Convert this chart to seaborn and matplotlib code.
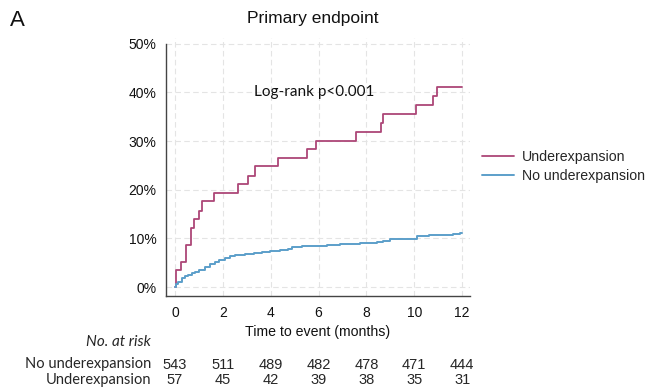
import matplotlib as mpl
import matplotlib.pyplot as plt
import matplotlib.transforms as mtransforms
import seaborn as sns
import pandas as pd

# cumulative incidence (%)
under_t = [0, 0.05, 0.24, 0.45, 0.68, 0.79, 1.02, 1.12, 1.63, 2.65, 3.07, 3.34,
           4.32, 5.5, 5.88, 7.55, 8.6, 8.68, 10.08, 10.8, 10.97, 12.0]
under_pct = [0, 3.5, 5.1, 8.6, 12.2, 14.0, 15.7, 17.6, 19.3, 21.1, 22.8, 24.8,
             26.6, 28.3, 30.0, 31.8, 33.7, 35.6, 37.4, 39.3, 41.2, 41.2]

nounder_t = [0, 0.05, 0.14, 0.28, 0.42, 0.56, 0.7, 0.84, 1.0, 1.25, 1.45, 1.67,
             1.85, 2.09, 2.3, 2.51, 2.93, 3.3, 3.62, 3.97, 4.4, 4.74, 4.88, 5.3,
             5.85, 6.34, 6.9, 7.73, 8.1, 8.43, 8.7, 8.99, 9.82, 10.1, 10.6, 11.2,
             11.6, 11.9, 12.0]
nounder_pct = [0, 0.6, 1.1, 1.8, 2.2, 2.5, 2.8, 3.1, 3.6, 4.2, 4.7, 5.1,
               5.5, 6.0, 6.3, 6.6, 6.8, 6.9, 7.1, 7.5, 7.7, 7.8, 8.3, 8.4,
               8.5, 8.6, 8.9, 9.0, 9.1, 9.3, 9.5, 9.8, 9.9, 10.4, 10.6, 10.7,
               10.9, 11.2, 11.2]

risk_times = [0, 2, 4, 6, 8, 10, 12]
risk_nounder = [543, 511, 489, 482, 478, 471, 444]
risk_under = [57, 45, 42, 39, 38, 35, 31]

y_ticks = [0, 10, 20, 30, 40, 50]

RED = '#ad4677'
BLUE = '#5c9fca'

sns.set_style('white')
plt.rcParams['font.family'] = ['Liberation Sans', 'DejaVu Sans']
CALI = ['Lato', 'DejaVu Sans']

fig = plt.figure(figsize=(6.49, 3.87), dpi=100)
ax = fig.add_axes([0.2558, 0.2351, 0.4684, 0.6667])

df_u = pd.DataFrame({'t': under_t, 'p': under_pct})
df_n = pd.DataFrame({'t': nounder_t, 'p': nounder_pct})
sns.lineplot(data=df_u, x='t', y='p', ax=ax, drawstyle='steps-post',
             estimator=None, color=RED, lw=1.3, label='Underexpansion')
sns.lineplot(data=df_n, x='t', y='p', ax=ax, drawstyle='steps-post',
             estimator=None, color=BLUE, lw=1.4, label='No underexpansion')

ax.set_xlim(-0.376, 12.33)
ax.set_ylim(-1.85, 51.2)
ax.set_xticks(risk_times)
ax.set_yticks(y_ticks)
ax.set_yticklabels([f'{v}%' for v in y_ticks])
for v in risk_times:
    ax.axvline(v, color='#e4e4e4', lw=0.8, ls=(0, (5, 3)), zorder=0)
for v in y_ticks:
    ax.axhline(v, color='#e4e4e4', lw=0.8, ls=(0, (5, 3)), zorder=0)

for s in ['top', 'right']:
    ax.spines[s].set_visible(False)
for s in ['left', 'bottom']:
    ax.spines[s].set_color('#444444')
    ax.spines[s].set_linewidth(1.0)
ax.spines['left'].set_bounds(-1.85, 50)
ax.tick_params(axis='both', direction='out', length=4, width=0.9,
               color='#444444', pad=3)
for lab in ax.get_xticklabels() + ax.get_yticklabels():
    lab.set_fontsize(10)
    lab.set_color('#111111')

ax.set_xlabel('Time to event (months)', fontsize=10.2, labelpad=4,
              color='#111111')
ax.set_ylabel('')

ax.text(5.8, 40, 'Log-rank p<0.001', ha='center', va='center',
        family=CALI, fontsize=11, color='#111111')

ax.get_legend().remove()
handles, labels = ax.get_legend_handles_labels()
fig.legend(handles, labels, loc='center left', bbox_to_anchor=(0.7227, 0.57),
           frameon=False, handlelength=2.3, handletextpad=0.55,
           labelspacing=0.38, prop={'size': 10.2})

fig.text(313 / 649, 1 - 18 / 387, 'Primary endpoint', ha='center',
         va='center', fontsize=12.5, color='#111111')
fig.text(10 / 649, 1 - 20 / 387, 'A', ha='left', va='center', fontsize=16,
         color='#111111')

# number-at-risk table
fig.text(151 / 649, 1 - 342 / 387, 'No. at risk', ha='right', va='center',
         family=CALI, style='italic', fontsize=11)
fig.text(151 / 649, 1 - 364 / 387, 'No underexpansion', ha='right',
         va='center', family=CALI, fontsize=10.5)
fig.text(151 / 649, 1 - 380 / 387, 'Underexpansion', ha='right',
         va='center', family=CALI, fontsize=10.5)
trans = mtransforms.blended_transform_factory(ax.transData, fig.transFigure)
for t, a, b in zip(risk_times, risk_nounder, risk_under):
    ax.text(t, 1 - 365 / 387, str(a), transform=trans, ha='center',
            va='center', fontsize=10.5, clip_on=False)
    ax.text(t, 1 - 380 / 387, str(b), transform=trans, ha='center',
            va='center', fontsize=10.5, clip_on=False)

fig.savefig('out.png', dpi=100)
